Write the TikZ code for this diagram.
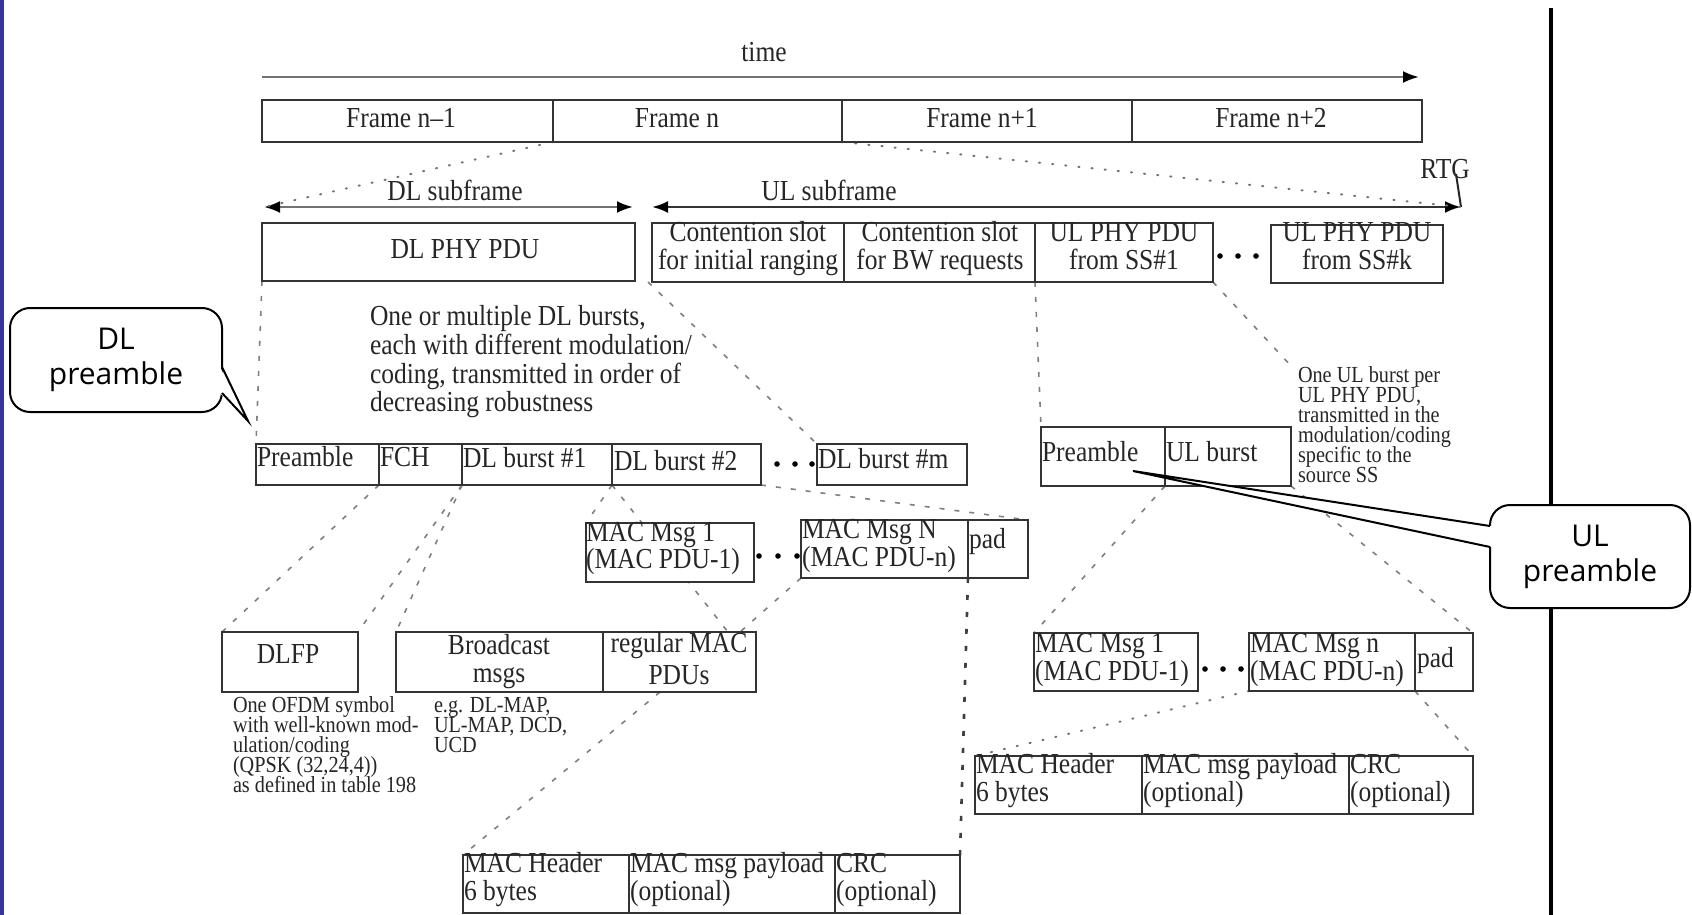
\documentclass[tikz,border=0pt]{standalone}
\usepackage{fontspec}
\newfontfamily\scan[FakeStretch=0.88]{Liberation Serif}
\newfontfamily\cmc{Open Sans}
\usetikzlibrary{arrows.meta}
\pgfdeclarelayer{back}
\pgfdeclarelayer{bg}
\pgfsetlayers{back,bg,main}
\definecolor{barblue}{RGB}{52,52,158}
\tikzset{
  cell/.style={draw=black!80, line width=0.9pt, fill=white, inner sep=0pt, outer sep=0pt},
  lbl/.style={font=\scan\fontsize{14.5}{14.5}\selectfont, text=black!85, inner sep=0pt, outer sep=0pt},
  lbs/.style={font=\scan\fontsize{11.5}{10}\selectfont},
  dotnode/.style={circle, fill=black, inner sep=0pt, minimum size=2.8pt},
  dtt/.style={draw=black!55, line width=1pt, dash pattern=on 0.6pt off 6pt, line cap=round},
  dsh/.style={draw=black!50, line width=0.8pt, dash pattern=on 2.5pt off 5pt},
  bdot/.style={draw=black!75, line width=1.3pt, dash pattern=on 2.5pt off 6pt},
  tarr/.style={draw=black!55, line width=1.2pt, -{Latex[length=8pt,width=6pt,color=black]}},
  darr/.style={draw=black!55, line width=1.2pt, {Latex[length=8pt,width=6pt,color=black]}-{Latex[length=8pt,width=6pt,color=black]}},
  uarr/.style={draw=black!80, line width=1.2pt, {Latex[length=8pt,width=6pt,color=black]}-{Latex[length=8pt,width=6pt,color=black]}},
  callbox/.style={draw=black, line width=1pt, fill=white, rounded corners=10pt, inner sep=0pt, outer sep=0pt, align=center, font=\cmc\fontsize{15}{17.5}\selectfont},
  tailline/.style={draw=black, line width=1pt, line join=miter}
}
\newcommand\cellbox[5]{\node[cell,anchor=north west,minimum width={0.5pt*(#4-#2)},minimum height={0.5pt*(#5-#3)}] (#1) at (#2,#3) {};}
\newcommand\tx[4][]{\node[lbl,anchor=base west,#1] (#2) at (#3) {#4};}
\begin{document}
\begin{tikzpicture}[x=0.5pt,y=-0.5pt]
\useasboundingbox (0,0) rectangle (1692,915);
\begin{pgfonlayer}{back}
  \fill[white] (0,0) rectangle (1692,915);
  \fill[barblue] (0,0) rectangle (4,915);
\end{pgfonlayer}

% ---------- boxes ----------
\cellbox{fA}{262}{100}{553}{142}
\cellbox{fB}{553}{100}{842}{142}
\cellbox{fC}{842}{100}{1132}{142}
\cellbox{fD}{1132}{100}{1422}{142}

\cellbox{dlphy}{262}{223}{635}{281}
\cellbox{cs1}{652}{223}{844}{282}
\cellbox{cs2}{844}{223}{1035}{282}
\cellbox{ul1}{1035}{223}{1213}{282}
\cellbox{ulk}{1271}{225}{1443}{283}

\cellbox{pre}{256}{444}{379}{485}
\cellbox{fch}{379}{444}{462}{485}
\cellbox{b1}{462}{444}{612}{485}
\cellbox{b2}{612}{444}{761}{485}
\cellbox{bm}{817}{444}{967}{485}

\cellbox{m1}{586}{523}{754}{582}
\cellbox{mN}{801}{520}{968}{578}
\cellbox{pd}{968}{520}{1028}{578}

\cellbox{dlfp}{222}{632}{358}{692}
\cellbox{bc}{396}{632}{603}{692}
\cellbox{rg}{603}{632}{756}{692}

\cellbox{h1}{463}{855}{629}{913}
\cellbox{h2}{629}{855}{835}{913}
\cellbox{h3}{835}{855}{960}{913}

\cellbox{upre}{1041}{427}{1165}{486}
\cellbox{uburst}{1165}{427}{1291}{486}

\cellbox{um1}{1034}{633}{1198}{691}
\cellbox{umn}{1249}{633}{1415}{691}
\cellbox{upd}{1415}{633}{1473}{691}

\cellbox{uh1}{975}{756}{1142}{814}
\cellbox{uh2}{1142}{756}{1349}{814}
\cellbox{uh3}{1349}{756}{1473}{814}

% ---------- dots ----------
\node[dotnode] (d1) at (777,464) {};
\node[dotnode] (d2) at (795,464) {};
\node[dotnode] (d3) at (812,464) {};
\node[dotnode] (d4) at (759,556) {};
\node[dotnode] (d5) at (778,556) {};
\node[dotnode] (d6) at (797,556) {};
\node[dotnode] (d7) at (1220,256) {};
\node[dotnode] (d8) at (1238,256) {};
\node[dotnode] (d9) at (1256,256) {};
\node[dotnode] (d10) at (1205,669) {};
\node[dotnode] (d11) at (1223,669) {};
\node[dotnode] (d12) at (1241,669) {};

% ---------- texts ----------
\tx[anchor=base]{tTime}{764,62}{time}
\tx[anchor=base]{tF1}{401,127}{Frame n–1}
\tx[anchor=base]{tF2}{677,127}{Frame n}
\tx[anchor=base]{tF3}{982,127}{Frame n+1}
\tx[anchor=base]{tF4}{1271,127}{Frame n+2}
\tx[anchor=base]{tDLs}{455,200}{DL subframe}
\tx[anchor=base]{tULs}{829,200}{UL subframe}
\tx[anchor=base]{tRTG}{1445,178}{RTG}
\tx[anchor=base]{tDLPHY}{465,258}{DL PHY PDU}
\tx[anchor=base]{tCs1a}{748,242}{Contention slot}
\tx[anchor=base]{tCs1b}{748,269}{for initial ranging}
\tx[anchor=base]{tCs2a}{940,242}{Contention slot}
\tx[anchor=base]{tCs2b}{940,269}{for BW requests}
\tx[anchor=base]{tUl1a}{1124,242}{UL PHY PDU}
\tx[anchor=base]{tUl1b}{1124,269}{from SS\#1}
\tx[anchor=base]{tUlka}{1357,242}{UL PHY PDU}
\tx[anchor=base]{tUlkb}{1357,269}{from SS\#k}

\tx{tN1}{370,325}{One or multiple DL bursts,}
\tx{tN2}{370,354}{each with different modulation/}
\tx{tN3}{370,383}{coding, transmitted in order of}
\tx{tN4}{370,411}{decreasing robustness}

\tx{tPre}{257,466}{Preamble}
\tx{tFch}{380,466}{FCH}
\tx{tB1}{463,467}{DL burst \#1}
\tx{tB2}{614,470}{DL burst \#2}
\tx{tBm}{818,468}{DL burst \#m}

\tx{tM1a}{586,541}{MAC Msg 1}
\tx{tM1b}{586,568}{(MAC PDU-1)}
\tx{tMNa}{802,538}{MAC Msg N}
\tx{tMNb}{802,566}{(MAC PDU-n)}
\tx{tPd}{969,548}{pad}

\tx[anchor=base]{tDlfp}{288,663}{DLFP}
\tx[anchor=base]{tBca}{499,654}{Broadcast}
\tx[anchor=base]{tBcb}{499,682}{msgs}
\tx[anchor=base]{tRga}{679,652}{regular MAC}
\tx[anchor=base]{tRgb}{679,684}{PDUs}

\tx[lbs]{tS1}{233,712}{One OFDM symbol}
\tx[lbs]{tS2}{233,732}{with well-known mod-}
\tx[lbs]{tS3}{233,752}{ulation/coding}
\tx[lbs]{tS4}{233,772}{(QPSK (32,24,4))}
\tx[lbs]{tS5}{233,792}{as defined in table 198}
\tx[lbs]{tE1}{434,712}{e.g. DL-MAP,}
\tx[lbs]{tE2}{434,732}{UL-MAP, DCD,}
\tx[lbs]{tE3}{434,752}{UCD}

\tx{tH1a}{464,872}{MAC Header}
\tx{tH1b}{464,900}{6 bytes}
\tx{tH2a}{630,872}{MAC msg payload}
\tx{tH2b}{630,900}{(optional)}
\tx{tH3a}{836,872}{CRC}
\tx{tH3b}{836,900}{(optional)}

\tx{tUpre}{1042,461}{Preamble}
\tx{tUb}{1166,461}{UL burst}

\tx[lbs]{tU1}{1298,382}{One UL burst per}
\tx[lbs]{tU2}{1298,402}{UL PHY PDU,}
\tx[lbs]{tU3}{1298,422}{transmitted in the}
\tx[lbs]{tU4}{1298,442}{modulation/coding}
\tx[lbs]{tU5}{1298,462}{specific to the}
\tx[lbs]{tU6}{1298,482}{source SS}

\tx{tUm1a}{1035,652}{MAC Msg 1}
\tx{tUm1b}{1035,680}{(MAC PDU-1)}
\tx{tUmna}{1250,652}{MAC Msg n}
\tx{tUmnb}{1250,680}{(MAC PDU-n)}
\tx{tUpd}{1417,667}{pad}

\tx{tUh1a}{976,773}{MAC Header}
\tx{tUh1b}{976,801}{6 bytes}
\tx{tUh2a}{1143,773}{MAC msg payload}
\tx{tUh2b}{1143,801}{(optional)}
\tx{tUh3a}{1350,773}{CRC}
\tx{tUh3b}{1350,801}{(optional)}

% ---------- free ends ----------
\coordinate (tA) at (262,77);
\coordinate (tB) at (1419,77);
\coordinate (dlL) at (264,207);
\coordinate (dlR) at (633,207);
\coordinate (ulL) at (652,207);
\coordinate (ulR) at (1461,207);
\coordinate (rtgT) at (1456,174);
\coordinate (cD) at (648,282);
\coordinate (cI) at (728,632);
\coordinate (cK) at (740,632);
\coordinate (cL) at (660,692);
\coordinate (cN) at (1293,368);

% ---------- connectors ----------
\begin{pgfonlayer}{bg}
  \draw[line width=2pt] (1551,8) -- (1551,915);
  \draw[tarr] (tA) -- (tB);
  \draw[darr] (dlL) -- (dlR);
  \draw[uarr] (ulL) -- (ulR);
  \draw[line width=1pt, black!85] (rtgT) -- (ulR);
  \draw[dtt] (fB.south west) -- (dlL);
  \draw[dtt] (fB.south east) -- (ulR);
  \draw[dsh] (dlphy.south west) -- (pre.north west);
  \draw[dsh] (cD) -- (bm.north west);
  \draw[dsh] (pre.south east) -- (dlfp.north west);
  \draw[dsh] (fch.south east) -- (dlfp.north east);
  \draw[dsh] (fch.south east) -- (bc.north west);
  \draw[dsh] (b2.south west) -- (m1.north west);
  \draw[dsh] (b2.south west) -- (cI);
  \draw[dsh] (b2.south east) -- (pd.north east);
  \draw[dsh] (mN.south west) -- (cK);
  \draw[dsh] (cL) -- (h1.north west);
  \draw[bdot] (pd.south west) -- (h3.north east);
  \draw[dsh] (ul1.south west) -- (upre.north west);
  \draw[dsh] (ul1.south east) -- (cN);
  \draw[dsh] (upre.south east) -- (um1.north west);
  \draw[dsh] (uburst.south east) -- (upd.north east);
  \draw[dtt] (umn.south west) -- (uh1.north west);
  \draw[dsh] (upd.south west) -- (uh3.north east);
\end{pgfonlayer}

% ---------- callouts ----------
\node[callbox, anchor=north west, minimum width=106pt, minimum height=52pt] (dlc) at (10,308) {DL\\preamble};
\fill[white] (220,367) -- (248,421) -- (220,393) -- cycle;
\draw[tailline] (222,367) -- (248,421) -- (222,393);

\node[callbox, anchor=north west, minimum width=100pt, minimum height=51.5pt] (ulc) at (1490,505) {UL\\preamble};
\fill[white] (1492,526) -- (1133,471) -- (1492,547) -- cycle;
\draw[tailline] (1490,526) -- (1133,471) -- (1490,547);
\end{tikzpicture}
\end{document}
